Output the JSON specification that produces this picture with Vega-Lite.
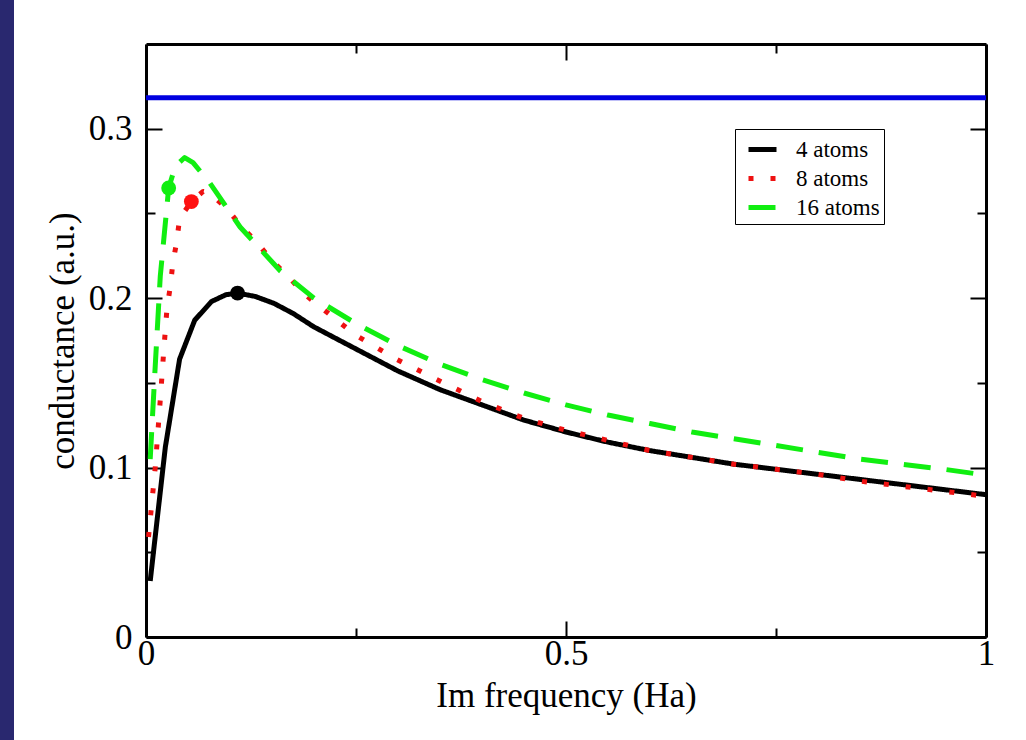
{
  "$schema": "https://vega.github.io/schema/vega-lite/v6.json",
  "autosize": {"type": "none"},
  "padding": {"left": 146, "top": 44, "right": 40, "bottom": 103},
  "width": 840,
  "height": 593,
  "background": "#29286f",
  "config": {
    "view": {"fill": "white", "stroke": "white", "strokeWidth": 264},
    "axis": {
      "labelFont": "Liberation Serif", "labelFontSize": 35, "labelColor": "black",
      "titleFont": "Liberation Serif", "titleFontSize": 35, "titleFontWeight": "normal", "titleColor": "black",
      "domainColor": "black", "domainWidth": 3, "tickColor": "black", "tickWidth": 2, "grid": false
    }
  },
  "datasets": {
    "curves": [
      {"series": "4 atoms", "freq": 0.005, "g": 0.033},
      {"series": "4 atoms", "freq": 0.023, "g": 0.112},
      {"series": "4 atoms", "freq": 0.04, "g": 0.164},
      {"series": "4 atoms", "freq": 0.058, "g": 0.187},
      {"series": "4 atoms", "freq": 0.078, "g": 0.198},
      {"series": "4 atoms", "freq": 0.095, "g": 0.202},
      {"series": "4 atoms", "freq": 0.109, "g": 0.203},
      {"series": "4 atoms", "freq": 0.13, "g": 0.201},
      {"series": "4 atoms", "freq": 0.152, "g": 0.197},
      {"series": "4 atoms", "freq": 0.175, "g": 0.191},
      {"series": "4 atoms", "freq": 0.2, "g": 0.183},
      {"series": "4 atoms", "freq": 0.25, "g": 0.170},
      {"series": "4 atoms", "freq": 0.3, "g": 0.157},
      {"series": "4 atoms", "freq": 0.35, "g": 0.146},
      {"series": "4 atoms", "freq": 0.4, "g": 0.137},
      {"series": "4 atoms", "freq": 0.45, "g": 0.128},
      {"series": "4 atoms", "freq": 0.5, "g": 0.121},
      {"series": "4 atoms", "freq": 0.55, "g": 0.115},
      {"series": "4 atoms", "freq": 0.6, "g": 0.110},
      {"series": "4 atoms", "freq": 0.65, "g": 0.106},
      {"series": "4 atoms", "freq": 0.7, "g": 0.102},
      {"series": "4 atoms", "freq": 0.75, "g": 0.099},
      {"series": "4 atoms", "freq": 0.8, "g": 0.096},
      {"series": "4 atoms", "freq": 0.85, "g": 0.093},
      {"series": "4 atoms", "freq": 0.9, "g": 0.090},
      {"series": "4 atoms", "freq": 0.95, "g": 0.087},
      {"series": "4 atoms", "freq": 1.0, "g": 0.084},
      {"series": "8 atoms", "freq": 0.003, "g": 0.059},
      {"series": "8 atoms", "freq": 0.011, "g": 0.100},
      {"series": "8 atoms", "freq": 0.017, "g": 0.140},
      {"series": "8 atoms", "freq": 0.021, "g": 0.168},
      {"series": "8 atoms", "freq": 0.025, "g": 0.194},
      {"series": "8 atoms", "freq": 0.029, "g": 0.207},
      {"series": "8 atoms", "freq": 0.032, "g": 0.221},
      {"series": "8 atoms", "freq": 0.0365, "g": 0.233},
      {"series": "8 atoms", "freq": 0.04, "g": 0.247},
      {"series": "8 atoms", "freq": 0.054, "g": 0.257},
      {"series": "8 atoms", "freq": 0.068, "g": 0.263},
      {"series": "8 atoms", "freq": 0.076, "g": 0.262},
      {"series": "8 atoms", "freq": 0.096, "g": 0.253},
      {"series": "8 atoms", "freq": 0.114, "g": 0.242},
      {"series": "8 atoms", "freq": 0.132, "g": 0.233},
      {"series": "8 atoms", "freq": 0.15, "g": 0.222},
      {"series": "8 atoms", "freq": 0.169, "g": 0.213},
      {"series": "8 atoms", "freq": 0.187, "g": 0.203},
      {"series": "8 atoms", "freq": 0.207, "g": 0.195},
      {"series": "8 atoms", "freq": 0.25, "g": 0.178},
      {"series": "8 atoms", "freq": 0.298, "g": 0.164},
      {"series": "8 atoms", "freq": 0.346, "g": 0.152},
      {"series": "8 atoms", "freq": 0.4, "g": 0.139},
      {"series": "8 atoms", "freq": 0.45, "g": 0.129},
      {"series": "8 atoms", "freq": 0.5, "g": 0.122},
      {"series": "8 atoms", "freq": 0.55, "g": 0.116},
      {"series": "8 atoms", "freq": 0.6, "g": 0.110},
      {"series": "8 atoms", "freq": 0.65, "g": 0.106},
      {"series": "8 atoms", "freq": 0.7, "g": 0.102},
      {"series": "8 atoms", "freq": 0.75, "g": 0.099},
      {"series": "8 atoms", "freq": 0.8, "g": 0.096},
      {"series": "8 atoms", "freq": 0.85, "g": 0.092},
      {"series": "8 atoms", "freq": 0.9, "g": 0.089},
      {"series": "8 atoms", "freq": 0.95, "g": 0.086},
      {"series": "8 atoms", "freq": 1.0, "g": 0.083},
      {"series": "16 atoms", "freq": 0.005, "g": 0.105},
      {"series": "16 atoms", "freq": 0.011, "g": 0.160},
      {"series": "16 atoms", "freq": 0.017, "g": 0.213},
      {"series": "16 atoms", "freq": 0.027, "g": 0.265},
      {"series": "16 atoms", "freq": 0.035, "g": 0.278},
      {"series": "16 atoms", "freq": 0.046, "g": 0.283},
      {"series": "16 atoms", "freq": 0.056, "g": 0.280},
      {"series": "16 atoms", "freq": 0.076, "g": 0.268},
      {"series": "16 atoms", "freq": 0.112, "g": 0.242},
      {"series": "16 atoms", "freq": 0.16, "g": 0.216},
      {"series": "16 atoms", "freq": 0.2, "g": 0.200},
      {"series": "16 atoms", "freq": 0.25, "g": 0.185},
      {"series": "16 atoms", "freq": 0.3, "g": 0.172},
      {"series": "16 atoms", "freq": 0.35, "g": 0.161},
      {"series": "16 atoms", "freq": 0.4, "g": 0.152},
      {"series": "16 atoms", "freq": 0.45, "g": 0.144},
      {"series": "16 atoms", "freq": 0.5, "g": 0.137},
      {"series": "16 atoms", "freq": 0.55, "g": 0.131},
      {"series": "16 atoms", "freq": 0.6, "g": 0.126},
      {"series": "16 atoms", "freq": 0.65, "g": 0.121},
      {"series": "16 atoms", "freq": 0.7, "g": 0.117},
      {"series": "16 atoms", "freq": 0.75, "g": 0.113},
      {"series": "16 atoms", "freq": 0.8, "g": 0.109},
      {"series": "16 atoms", "freq": 0.85, "g": 0.105},
      {"series": "16 atoms", "freq": 0.9, "g": 0.102},
      {"series": "16 atoms", "freq": 0.95, "g": 0.099},
      {"series": "16 atoms", "freq": 1.0, "g": 0.0955}
    ],
    "peaks": [
      {"series": "4 atoms", "freq": 0.109, "g": 0.203},
      {"series": "8 atoms", "freq": 0.054, "g": 0.257},
      {"series": "16 atoms", "freq": 0.027, "g": 0.265}
    ],
    "limit": [{"g": 0.3183}]
  },
  "resolve": {"axis": {"x": "independent", "y": "independent"}},
  "layer": [
    {
      "data": {"name": "curves"},
      "mark": {"type": "line", "strokeWidth": 5, "strokeCap": "butt", "strokeJoin": "round"},
      "encoding": {
        "x": {
          "field": "freq", "type": "quantitative",
          "scale": {"domain": [0, 1], "nice": false, "zero": false},
          "axis": {
            "orient": "bottom", "title": "Im frequency (Ha)",
            "values": [0, 0.25, 0.5, 0.75, 1],
            "labelExpr": "abs(datum.value*2 - round(datum.value*2)) < 0.000001 ? format(datum.value, '~g') : ''",
            "tickSize": {"condition": {"test": "abs(datum.value*2 - round(datum.value*2)) < 0.000001", "value": -16}, "value": -9},
            "labelPadding": 15, "titlePadding": 0, "labelFlush": false, "labelOverlap": false
          }
        },
        "y": {
          "field": "g", "type": "quantitative",
          "scale": {"domain": [0, 0.35], "nice": false, "zero": false},
          "axis": {
            "orient": "left", "title": "conductance (a.u.)",
            "values": [0, 0.05, 0.1, 0.15, 0.2, 0.25, 0.3],
            "labelExpr": "abs(datum.value*10 - round(datum.value*10)) < 0.000001 ? format(datum.value, '~g') : ''",
            "tickSize": {"condition": {"test": "abs(datum.value*10 - round(datum.value*10)) < 0.000001", "value": -16}, "value": -9},
            "labelPadding": 30, "titlePadding": 8, "labelFlush": false, "labelOverlap": false
          }
        },
        "color": {
          "field": "series", "type": "nominal", "title": null,
          "scale": {"domain": ["4 atoms", "8 atoms", "16 atoms"], "range": ["black", "#ee1111", "#11ee11"]},
          "legend": {
            "orient": "none", "legendX": 589, "legendY": 85, "title": null,
            "symbolType": "stroke", "symbolSize": 784, "symbolStrokeWidth": 5, "symbolOffset": 7,
            "labelFont": "Liberation Serif", "labelFontSize": 23, "labelColor": "black", "labelOffset": 17, "labelLimit": 300,
            "strokeColor": "black", "fillColor": "white", "padding": 4, "rowPadding": -3
          }
        },
        "strokeDash": {
          "field": "series", "type": "nominal", "title": null,
          "scale": {"domain": ["4 atoms", "8 atoms", "16 atoms"], "range": [[1, 0], [5, 17], [27, 16]]},
          "legend": {
            "orient": "none", "legendX": 589, "legendY": 85, "title": null,
            "symbolType": "stroke", "symbolSize": 784, "symbolStrokeWidth": 5, "symbolOffset": 7,
            "labelFont": "Liberation Serif", "labelFontSize": 23, "labelColor": "black", "labelOffset": 17, "labelLimit": 300,
            "strokeColor": "black", "fillColor": "white", "padding": 4, "rowPadding": -3
          }
        }
      }
    },
    {
      "data": {"name": "peaks"},
      "mark": {"type": "point", "filled": true, "opacity": 1, "size": 220},
      "encoding": {
        "x": {
          "field": "freq", "type": "quantitative",
          "scale": {"domain": [0, 1], "nice": false, "zero": false},
          "axis": {
            "orient": "top", "title": null, "labels": false,
            "values": [0, 0.25, 0.5, 0.75, 1],
            "tickSize": {"condition": {"test": "abs(datum.value*2 - round(datum.value*2)) < 0.000001", "value": -16}, "value": -9}
          }
        },
        "y": {
          "field": "g", "type": "quantitative",
          "scale": {"domain": [0, 0.35], "nice": false, "zero": false},
          "axis": {
            "orient": "right", "title": null, "labels": false,
            "values": [0, 0.05, 0.1, 0.15, 0.2, 0.25, 0.3],
            "tickSize": {"condition": {"test": "abs(datum.value*10 - round(datum.value*10)) < 0.000001", "value": -16}, "value": -9}
          }
        },
        "fill": {
          "field": "series", "type": "nominal", "legend": null,
          "scale": {"domain": ["4 atoms", "8 atoms", "16 atoms"], "range": ["black", "#ff1111", "#11ee11"]}
        }
      }
    },
    {
      "data": {"name": "limit"},
      "mark": {"type": "rule", "color": "#0000e0", "strokeWidth": 5},
      "encoding": {
        "y": {"field": "g", "type": "quantitative", "axis": null}
      }
    }
  ]
}
